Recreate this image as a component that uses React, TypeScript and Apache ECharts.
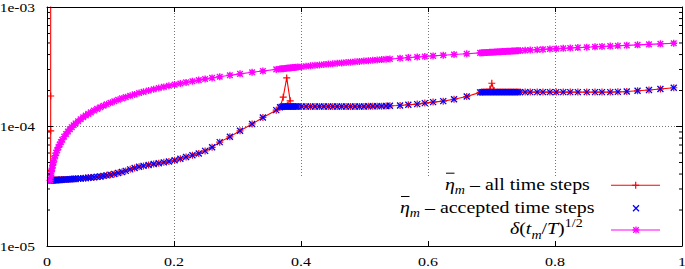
import React, { useEffect, useRef } from "react";
import * as echarts from "echarts";

// ---------- data ----------
const acceptedT = [
  0.005, 0.006, 0.007, 0.008, 0.009, 0.010, 0.0115, 0.013, 0.0145, 0.016,
  0.018, 0.020, 0.022, 0.024, 0.027, 0.030, 0.033, 0.036, 0.039, 0.042,
  0.045, 0.049, 0.053, 0.057, 0.061, 0.065, 0.069, 0.074, 0.079, 0.084,
  0.089, 0.094, 0.100, 0.106, 0.112, 0.118, 0.124, 0.131, 0.138, 0.145,
  0.152, 0.160, 0.168, 0.176, 0.184, 0.192, 0.201, 0.210, 0.219, 0.229,
  0.239, 0.249, 0.260, 0.272, 0.288, 0.304, 0.323, 0.340, 0.361,
  0.367, 0.3695, 0.372, 0.3745, 0.377, 0.3795, 0.382, 0.3845, 0.387, 0.3895,
  0.392, 0.395, 0.401, 0.408, 0.415, 0.422, 0.429, 0.436, 0.443, 0.450,
  0.457, 0.464, 0.471, 0.478, 0.485, 0.492, 0.499, 0.506, 0.513, 0.520,
  0.527, 0.534, 0.540, 0.556, 0.569, 0.583, 0.595, 0.608, 0.624, 0.641,
  0.661, 0.682,
  0.6845, 0.687, 0.6895, 0.692, 0.6945, 0.697, 0.6995, 0.702, 0.7045, 0.707,
  0.7095, 0.712, 0.7145, 0.717, 0.7195, 0.722, 0.7245, 0.727, 0.7295, 0.732,
  0.7345, 0.737, 0.7395, 0.742, 0.745,
  0.753, 0.761, 0.772, 0.781, 0.792, 0.802, 0.813, 0.824, 0.836, 0.850,
  0.863, 0.874, 0.887, 0.899, 0.913, 0.930, 0.948, 0.966, 0.987,
];

const acceptedEta = [
  3.55e-5, 3.55e-5, 3.55e-5, 3.55e-5, 3.55e-5, 3.56e-5, 3.56e-5, 3.56e-5, 3.57e-5, 3.57e-5,
  3.57e-5, 3.58e-5, 3.58e-5, 3.59e-5, 3.60e-5, 3.60e-5, 3.61e-5, 3.62e-5, 3.63e-5, 3.64e-5,
  3.65e-5, 3.66e-5, 3.67e-5, 3.69e-5, 3.70e-5, 3.72e-5, 3.74e-5, 3.76e-5, 3.79e-5, 3.82e-5,
  3.86e-5, 3.90e-5, 3.95e-5, 4.01e-5, 4.08e-5, 4.16e-5, 4.25e-5, 4.38e-5, 4.50e-5, 4.60e-5,
  4.68e-5, 4.77e-5, 4.85e-5, 4.93e-5, 5.01e-5, 5.10e-5, 5.22e-5, 5.37e-5, 5.55e-5, 5.74e-5,
  5.95e-5, 6.25e-5, 6.7e-5, 7.4e-5, 8.2e-5, 9.2e-5, 1.05e-4, 1.19e-4, 1.37e-4,
  1.45e-4, 1.46e-4, 1.47e-4, 1.47e-4, 1.47e-4, 1.47e-4, 1.47e-4, 1.47e-4, 1.47e-4, 1.47e-4,
  1.47e-4, 1.47e-4, 1.47e-4, 1.47e-4, 1.47e-4, 1.47e-4, 1.47e-4, 1.47e-4, 1.47e-4, 1.47e-4,
  1.47e-4, 1.47e-4, 1.47e-4, 1.47e-4, 1.47e-4, 1.47e-4, 1.47e-4, 1.475e-4, 1.475e-4, 1.48e-4,
  1.48e-4, 1.485e-4, 1.49e-4, 1.50e-4, 1.52e-4, 1.54e-4, 1.57e-4, 1.60e-4, 1.63e-4, 1.69e-4,
  1.78e-4, 1.93e-4,
  1.94e-4, 1.94e-4, 1.94e-4, 1.94e-4, 1.94e-4, 1.94e-4, 1.94e-4, 1.94e-4, 1.94e-4, 1.94e-4,
  1.94e-4, 1.94e-4, 1.94e-4, 1.94e-4, 1.94e-4, 1.94e-4, 1.94e-4, 1.94e-4, 1.94e-4, 1.94e-4,
  1.94e-4, 1.94e-4, 1.94e-4, 1.94e-4, 1.94e-4,
  1.94e-4, 1.94e-4, 1.94e-4, 1.94e-4, 1.94e-4, 1.94e-4, 1.94e-4, 1.94e-4, 1.94e-4, 1.94e-4,
  1.94e-4, 1.94e-4, 1.94e-4, 1.95e-4, 1.96e-4, 1.99e-4, 2.02e-4, 2.06e-4, 2.11e-4,
];

const deltaVals = [
  3.54e-5, 3.87e-5, 4.18e-5, 4.47e-5, 4.74e-5, 5.00e-5, 5.36e-5, 5.70e-5, 6.02e-5, 6.32e-5,
  6.71e-5, 7.07e-5, 7.42e-5, 7.75e-5, 8.22e-5, 8.66e-5, 9.08e-5, 9.49e-5, 9.87e-5, 1.025e-4,
  1.061e-4, 1.107e-4, 1.151e-4, 1.194e-4, 1.235e-4, 1.275e-4, 1.313e-4, 1.360e-4, 1.405e-4, 1.449e-4,
  1.492e-4, 1.533e-4, 1.581e-4, 1.628e-4, 1.673e-4, 1.718e-4, 1.761e-4, 1.810e-4, 1.857e-4, 1.904e-4,
  1.949e-4, 2.000e-4, 2.049e-4, 2.098e-4, 2.145e-4, 2.191e-4, 2.242e-4, 2.291e-4, 2.340e-4, 2.393e-4,
  2.444e-4, 2.495e-4, 2.550e-4, 2.608e-4, 2.683e-4, 2.757e-4, 2.842e-4, 2.915e-4, 3.004e-4,
  3.029e-4, 3.039e-4, 3.050e-4, 3.060e-4, 3.070e-4, 3.080e-4, 3.090e-4, 3.100e-4, 3.110e-4, 3.121e-4,
  3.131e-4, 3.142e-4, 3.166e-4, 3.194e-4, 3.221e-4, 3.248e-4, 3.275e-4, 3.302e-4, 3.328e-4, 3.354e-4,
  3.380e-4, 3.406e-4, 3.431e-4, 3.457e-4, 3.482e-4, 3.507e-4, 3.532e-4, 3.557e-4, 3.581e-4, 3.606e-4,
  3.630e-4, 3.654e-4, 3.674e-4, 3.728e-4, 3.772e-4, 3.818e-4, 3.857e-4, 3.899e-4, 3.950e-4, 4.003e-4,
  4.065e-4, 4.129e-4,
  4.137e-4, 4.144e-4, 4.152e-4, 4.159e-4, 4.167e-4, 4.174e-4, 4.182e-4, 4.189e-4, 4.197e-4, 4.204e-4,
  4.212e-4, 4.219e-4, 4.226e-4, 4.234e-4, 4.241e-4, 4.249e-4, 4.256e-4, 4.263e-4, 4.271e-4, 4.278e-4,
  4.285e-4, 4.292e-4, 4.300e-4, 4.307e-4, 4.316e-4,
  4.339e-4, 4.362e-4, 4.393e-4, 4.419e-4, 4.450e-4, 4.478e-4, 4.508e-4, 4.539e-4, 4.572e-4, 4.610e-4,
  4.645e-4, 4.674e-4, 4.709e-4, 4.741e-4, 4.778e-4, 4.822e-4, 4.868e-4, 4.914e-4, 4.967e-4,
];

// rejected (not accepted) time steps; rejAfterT = accepted t after which they occur (-1: before all)
const rejAfterT = [-1, -1, -1, -1, 0.367, 0.367, 0.367, 0.6945, 0.6945, 0.6945];
const rejT = [0.0058, 0.0058, 0.0058, 0.0058, 0.372, 0.3775, 0.383, 0.6975, 0.7005, 0.704];
const rejEta = [5e-3, 1.8e-4, 9.2e-5, 4.3e-5, 1.76e-4, 2.55e-4, 1.64e-4, 2.05e-4, 2.3e-4, 2.0e-4];

const xTickValues = [0, 0.2, 0.4, 0.6, 0.8, 1];
const xTickLabels = ["0", "0.2", "0.4", "0.6", "0.8", "1"];
const yTickValues = [1e-5, 1e-4, 1e-3];
const yTickLabels = ["1e-05", "1e-04", "1e-03"];
const minorTickVals = [2e-5, 3e-5, 4e-5, 5e-5, 6e-5, 7e-5, 8e-5, 9e-5, 2e-4, 3e-4, 4e-4, 5e-4, 6e-4, 7e-4, 8e-4, 9e-4];

const legendNames = ["all time steps", "accepted time steps"];

// ---------- styling ----------
const FONT = "'Liberation Serif','Times New Roman',serif";
const RED = "#ff0000";
const BLUE = "#0000ff";
const MAGENTA = "#ff00ff";
const PLUS = "path://M0,5L10,5M5,0L5,10";
const CROSS = "path://M0,0L10,10M0,10L10,0";
const STAR = "path://M0,5L10,5M5,0L5,10M1,1L9,9M1,9L9,1";

function buildAllSteps(): number[][] {
  const pts: number[][] = [];
  rejT.forEach((t, i) => {
    if (rejAfterT[i] < 0) pts.push([t, rejEta[i]]);
  });
  acceptedT.forEach((t, i) => {
    pts.push([t, acceptedEta[i]]);
    rejT.forEach((rt, j) => {
      if (rejAfterT[j] === t) pts.push([rt, rejEta[j]]);
    });
  });
  return pts;
}

export default function App() {
  const ref = useRef<HTMLDivElement>(null);

  useEffect(() => {
    document.body.style.margin = "0";
    if (!ref.current) return;
    const chart = echarts.init(ref.current, null, { renderer: "svg" });

    const logAxisBase = { type: "log", logBase: 10, min: 1e-5, max: 1e-3 };
    const valAxisBase = { type: "value", min: 0, max: 1, interval: 0.2 };

    const option: any = {
      animation: false,
      grid: { left: 47, right: 3, top: 7, bottom: 23 },
      xAxis: [
        {
          ...valAxisBase,
          position: "bottom",
          z: 0,
          axisLine: { show: false },
          axisTick: { show: false },
          axisLabel: { show: false },
          splitLine: { show: true, lineStyle: { color: "#777", type: [1, 2], width: 1 } },
        },
        {
          ...valAxisBase,
          position: "bottom",
          z: 3,
          axisLine: { show: true, onZero: false, lineStyle: { color: "#000", width: 1 } },
          axisTick: { show: true, inside: true, length: 5, lineStyle: { color: "#000" } },
          axisLabel: { show: false },
          splitLine: { show: false },
        },
        {
          ...valAxisBase,
          position: "top",
          z: 3,
          axisLine: { show: true, onZero: false, lineStyle: { color: "#000", width: 1 } },
          axisTick: { show: true, inside: true, length: 5, lineStyle: { color: "#000" } },
          axisLabel: { show: false },
          splitLine: { show: false },
        },
      ],
      yAxis: [
        {
          ...logAxisBase,
          position: "left",
          z: 0,
          axisLine: { show: false },
          axisTick: { show: false },
          axisLabel: { show: false },
          splitLine: { show: true, lineStyle: { color: "#777", type: [1, 2], width: 1 } },
        },
        {
          ...logAxisBase,
          position: "left",
          z: 3,
          axisLine: { show: true, onZero: false, lineStyle: { color: "#000", width: 1 } },
          axisTick: { show: true, inside: true, length: 6, lineStyle: { color: "#000" } },
          axisLabel: { show: false },
          splitLine: { show: false },
        },
        {
          ...logAxisBase,
          position: "right",
          z: 3,
          axisLine: { show: true, onZero: false, lineStyle: { color: "#000", width: 1 } },
          axisTick: { show: true, inside: true, length: 6, lineStyle: { color: "#000" } },
          axisLabel: { show: false },
          splitLine: { show: false },
        },
      ],
      series: [
        {
          name: legendNames[0],
          type: "line",
          xAxisIndex: 0,
          yAxisIndex: 0,
          data: buildAllSteps(),
          clip: true,
          symbol: PLUS,
          symbolSize: 7,
          showSymbol: true,
          lineStyle: { color: RED, width: 1.1 },
          itemStyle: { color: RED, borderColor: RED, borderWidth: 1.2 },
          z: 2,
          silent: true,
        },
        {
          name: legendNames[1],
          type: "scatter",
          xAxisIndex: 0,
          yAxisIndex: 0,
          data: acceptedT.map((t, i) => [t, acceptedEta[i]]),
          symbol: CROSS,
          symbolSize: 6,
          itemStyle: { color: BLUE, borderColor: BLUE, borderWidth: 1.3, opacity: 1 },
          z: 2,
          silent: true,
        },
        {
          name: "delta",
          type: "line",
          xAxisIndex: 0,
          yAxisIndex: 0,
          data: acceptedT.map((t, i) => [t, deltaVals[i]]),
          clip: true,
          symbol: STAR,
          symbolSize: 7,
          showSymbol: true,
          lineStyle: { color: MAGENTA, width: 1.1 },
          itemStyle: { color: MAGENTA, borderColor: MAGENTA, borderWidth: 1.4 },
          z: 2,
          silent: true,
        },
        {
          type: "custom",
          coordinateSystem: "cartesian2d",
          xAxisIndex: 0,
          yAxisIndex: 0,
          data: minorTickVals.map((v) => [0, v]),
          clip: false,
          silent: true,
          z: 3,
          renderItem: (params: any, api: any) => {
            const v = api.value(1);
            const l = api.coord([0, v]);
            const r = api.coord([1, v]);
            return {
              type: "group",
              children: [
                { type: "line", shape: { x1: l[0], y1: l[1], x2: l[0] + 3, y2: l[1] }, style: { stroke: "#000", lineWidth: 1 } },
                { type: "line", shape: { x1: r[0] - 3, y1: r[1], x2: r[0], y2: r[1] }, style: { stroke: "#000", lineWidth: 1 } },
              ],
            };
          },
        },
      ],
    };
    chart.setOption(option);

    // axis labels (stretched serif like the reference), placed through the axes' own scales
    const bottomY = chart.convertToPixel({ yAxisIndex: 0 }, 1e-5) as number;
    const leftX = chart.convertToPixel({ xAxisIndex: 0 }, 0) as number;
    const labelStyle = { fontFamily: FONT, fontSize: 12.5, fill: "#000" };
    const graphics: any[] = [];
    xTickValues.forEach((v, i) => {
      const px = chart.convertToPixel({ xAxisIndex: 0 }, v) as number;
      graphics.push({
        type: "text",
        x: px,
        y: bottomY + 16,
        scaleX: 1.28,
        silent: true,
        style: { ...labelStyle, text: xTickLabels[i], align: "center", verticalAlign: "middle" },
      });
    });
    yTickValues.forEach((v, i) => {
      const py = chart.convertToPixel({ yAxisIndex: 0 }, v) as number;
      graphics.push({
        type: "text",
        x: leftX - 12,
        y: py + 0.5,
        scaleX: 1.24,
        silent: true,
        style: { ...labelStyle, text: yTickLabels[i], align: "right", verticalAlign: "middle" },
      });
    });

    // key box (opaque, hides grid lines but not the border ticks)
    graphics.push({
      type: "rect",
      z: 1,
      silent: true,
      shape: { x: 290, y: 176, width: 391, height: 69 },
      style: { fill: "#fff" },
    });

    const rich = {
      i: { fontFamily: FONT, fontSize: 17, fontStyle: "italic", lineHeight: 20 },
      s: { fontFamily: FONT, fontSize: 12, fontStyle: "italic", verticalAlign: "bottom", height: 8, lineHeight: 20 },
      p: { fontFamily: FONT, fontSize: 12, verticalAlign: "top", height: 8, lineHeight: 20 },
      n: { fontFamily: FONT, fontSize: 17, lineHeight: 20 },
    };
    const legendText = (x: number, y: number, text: string) => ({
      type: "text",
      x,
      y,
      scaleX: 1.17,
      z: 5,
      silent: true,
      style: { text, rich, fontFamily: FONT, fontSize: 17, fill: "#000", align: "left", verticalAlign: "middle" },
    });
    graphics.push(legendText(445, 184, `{i|η}{s|m}{n| – ${legendNames[0]}}`));
    graphics.push(legendText(400, 207.3, `{i|η}{s|m}{n| – ${legendNames[1]}}`));
    graphics.push(legendText(510, 228.6, "{i|δ}{n|(}{i|t}{s|m}{n|/}{i|T}{n|)}{p|1/2}"));

    const ln = (x1: number, y1: number, x2: number, y2: number, stroke: string, lw = 1) => ({
      type: "line",
      z: 5,
      silent: true,
      shape: { x1, y1, x2, y2 },
      style: { stroke, lineWidth: lw },
    });
    // overlines on eta
    graphics.push(ln(446, 173.2, 454.5, 173.2, "#000", 1));
    graphics.push(ln(401, 196.5, 409.5, 196.5, "#000", 1));
    // key samples
    graphics.push(ln(611, 185.3, 660, 185.3, RED, 1.1));
    graphics.push(ln(632.2, 185.3, 639.2, 185.3, RED, 1.2));
    graphics.push(ln(635.7, 181.8, 635.7, 188.8, RED, 1.2));
    graphics.push(ln(633, 205.3, 639, 211.3, BLUE, 1.3));
    graphics.push(ln(633, 211.3, 639, 205.3, BLUE, 1.3));
    graphics.push(ln(611, 230, 660, 230, MAGENTA, 1.1));
    graphics.push(ln(632.5, 230, 639.5, 230, MAGENTA, 1.3));
    graphics.push(ln(636, 226.5, 636, 233.5, MAGENTA, 1.3));
    graphics.push(ln(633.2, 227.2, 638.8, 232.8, MAGENTA, 1.3));
    graphics.push(ln(633.2, 232.8, 638.8, 227.2, MAGENTA, 1.3));

    chart.setOption({ graphic: graphics });

    return () => chart.dispose();
  }, []);

  return <div ref={ref} style={{ width: 685, height: 269 }} />;
}
